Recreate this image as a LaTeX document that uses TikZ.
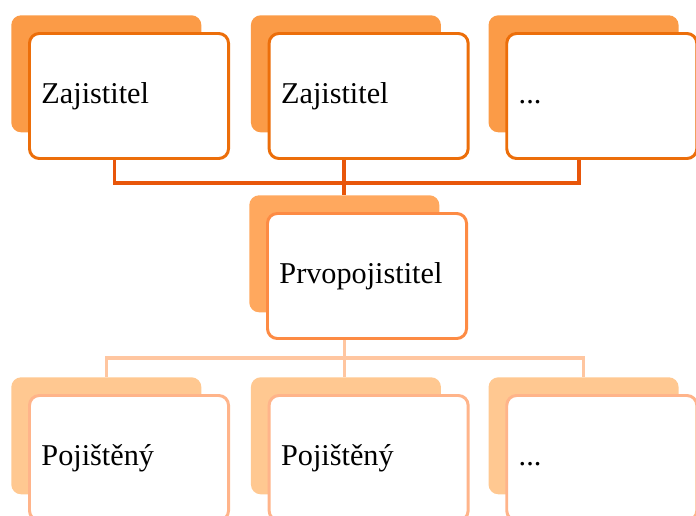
\documentclass[tikz,border=0pt]{standalone}
\usepackage{fontspec}
\setmainfont{Liberation Serif}
\usetikzlibrary{positioning, calc}
\definecolor{naranjaOscuro}{HTML}{EC6E0A}
\definecolor{naranjaRojo}{HTML}{E8560A}
\definecolor{naranjaMedio}{HTML}{FB9B47}
\definecolor{naranjaClaro}{HTML}{FFA85E}
\definecolor{naranjaBorde}{HTML}{FD8B44}
\definecolor{melocoton}{HTML}{FFC891}
\definecolor{melocotonBorde}{HTML}{FFB48A}
\definecolor{melocotonLinea}{HTML}{FFC6A0}
\colorlet{colFondoSup}{naranjaMedio}
\colorlet{colBordeSup}{naranjaOscuro}
\colorlet{colLineaSup}{naranjaRojo}
\colorlet{colFondoMed}{naranjaClaro}
\colorlet{colBordeMed}{naranjaBorde}
\colorlet{colFondoInf}{melocoton}
\colorlet{colBordeInf}{melocotonBorde}
\colorlet{colLineaInf}{melocotonLinea}
\tikzset{
  cajaFondo/.style={
    rounded corners=7pt, inner sep=0pt,
    minimum width=4.75cm, minimum height=2.925cm
  },
  cajaFrente/.style={
    draw, line width=2.1pt, rounded corners=7pt, fill=white,
    minimum width=4.975cm, minimum height=3.125cm,
    text width=4.375cm, inner xsep=0.3cm, align=left,
    text height=15pt, text depth=5pt,
    font=\fontsize{21.5}{25}\selectfont, text=black
  },
  cajaSup/.style={cajaFrente, draw=colBordeSup},
  cajaMed/.style={cajaFrente, draw=colBordeMed},
  cajaInf/.style={cajaFrente, draw=colBordeInf},
  fondoSup/.style={cajaFondo, fill=colFondoSup},
  fondoMed/.style={cajaFondo, fill=colFondoMed},
  fondoInf/.style={cajaFondo, fill=colFondoInf},
  lineaSup/.style={line width=2.6pt, colLineaSup},
  lineaInf/.style={line width=2.4pt, colLineaInf},
}

\begin{document}
\begin{tikzpicture}[x=0.025cm, y=-0.025cm]
    \useasboundingbox (0,0) rectangle (696,515);

    % zajistitele
    \node[fondoSup, anchor=north west] (z1f) at (11,15) {};
    \node[fondoSup, right=1.225cm of z1f] (z2f) {};
    \node[fondoSup, right=1.175cm of z2f] (z3f) {};
    \node[cajaSup, anchor=north west] (z1) at ([shift={(0.425cm,-0.425cm)}]z1f.north west) {Zajistitel};
    \node[cajaSup, anchor=north west] (z2) at ([shift={(0.425cm,-0.425cm)}]z2f.north west) {Zajistitel};
    \node[cajaSup, anchor=north west, minimum width=4.75cm, text width=4.15cm] (z3) at ([shift={(0.425cm,-0.425cm)}]z3f.north west) {...};

    % prvopojistitel
    \node[fondoMed, anchor=north west] (pf) at (249,195) {};
    \node[cajaMed, anchor=north west] (p) at ([shift={(0.425cm,-0.425cm)}]pf.north west) {Prvopojistitel};

    % pojistene
    \node[fondoInf, anchor=north west] (q1f) at (11,377) {};
    \node[fondoInf, right=1.225cm of q1f] (q2f) {};
    \node[fondoInf, right=1.175cm of q2f] (q3f) {};
    \node[cajaInf, anchor=north west] (q1) at ([shift={(0.425cm,-0.425cm)}]q1f.north west) {Pojištěný};
    \node[cajaInf, anchor=north west] (q2) at ([shift={(0.425cm,-0.425cm)}]q2f.north west) {Pojištěný};
    \node[cajaInf, anchor=north west, minimum width=4.75cm, text width=4.15cm] (q3) at ([shift={(0.425cm,-0.425cm)}]q3f.north west) {...};

    % spojnice
    \coordinate (busSup) at ($(pf.north |- z1.south)+(0,23)$);
    \coordinate (busInf) at ($(pf.north |- p.south)+(0,18)$);
    \draw[lineaSup] ([xshift=-0.3625cm]z1.south) |- (busSup) -| ([xshift=-0.575cm]z3.south);
    \draw[lineaSup] (pf.north |- z2.south) -- (pf.north);
    \draw[lineaInf] (pf.north |- p.south) -- (busInf |- q2f.north);
    \draw[lineaInf] (q1f.north) |- (busInf) -| (q3f.north);
\end{tikzpicture}
\end{document}
